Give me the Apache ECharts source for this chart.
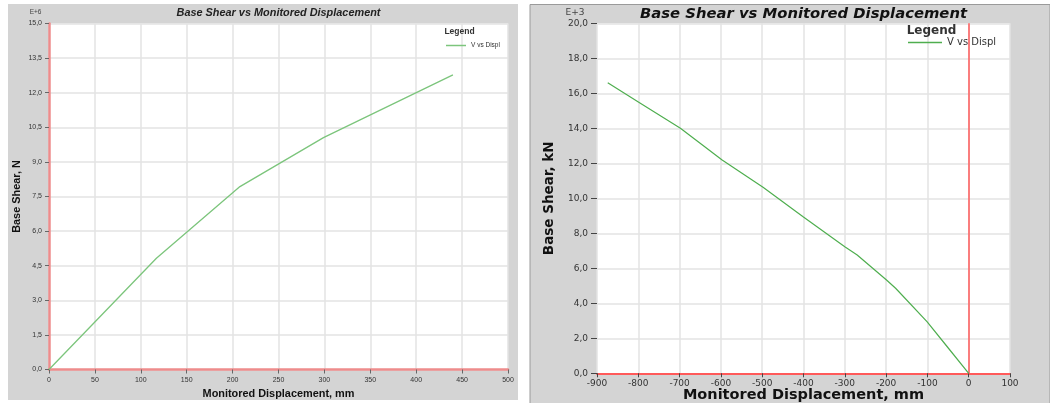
<!DOCTYPE html>
<html>
<head>
<meta charset="utf-8">
<script src="https://cdn.jsdelivr.net/npm/echarts@6/dist/echarts.min.js"></script>
<style>
  html, body { margin: 0; padding: 0; background: #ffffff; }
  #chart { width: 1050px; height: 403px; }
</style>
</head>
<body>
<div id="chart"></div>
<script>
// Pushover curve, positive push: displacement (mm) and base shear (x10^6 N)
const dispPos  = [0, 117, 208, 299, 440];
const shearPos = [0, 4.82, 7.93, 10.05, 12.77];

// Pushover curve, negative push: displacement (mm) and base shear (x10^3 kN)
const dispNeg  = [-874, -797, -698, -597, -498, -401, -300, -270, -199, -177, -101, -50, 0];
const shearNeg = [16.6, 15.46, 14.0, 12.19, 10.63, 8.95, 7.23, 6.76, 5.33, 4.86, 2.95, 1.46, 0];

// Axis ranges and tick steps
const axisPosX = { min: 0, max: 500, interval: 50 };
const axisPosY = { min: 0, max: 15, interval: 1.5 };
const axisNegX = { min: -900, max: 100, interval: 100 };
const axisNegY = { min: 0, max: 20, interval: 2 };

const titleText = 'Base Shear vs Monitored Displacement';
const xName = 'Monitored Displacement, mm';
const seriesName = 'V vs Displ';

const toPairs = (xs, ys) => xs.map((x, i) => [x, ys[i]]);
const commaDec = v => v.toFixed(1).replace('.', ',');

const FONT_L = 'Liberation Sans, Arial, sans-serif';
const FONT_R = 'DejaVu Sans, Verdana, sans-serif';
const GRID_COLOR = '#e3e3e3';
const PANEL = '#d4d4d4';

const chart = echarts.init(document.getElementById('chart'), null, { renderer: 'canvas' });

chart.setOption({
  animation: false,
  backgroundColor: '#ffffff',
  graphic: [
    // panel backgrounds
    { type: 'rect', z: -10, shape: { x: 8, y: 4, width: 510, height: 396 }, style: { fill: PANEL } },
    { type: 'rect', z: -10, shape: { x: 530, y: 4.5, width: 520, height: 399 },
      style: { fill: PANEL, stroke: '#9a9a9a', lineWidth: 1 } },
    // titles
    { type: 'text', x: 278.5, y: 12.5, style: { text: titleText, font: 'italic bold 10.9px ' + FONT_L,
      fill: '#222', align: 'center', verticalAlign: 'middle' } },
    { type: 'text', x: 803.5, y: 14, style: { text: titleText, font: 'italic bold 14.8px ' + FONT_R,
      fill: '#111', align: 'center', verticalAlign: 'middle' } },
    // exponent markers
    { type: 'text', x: 35.5, y: 12, style: { text: 'E+6', font: '6.5px ' + FONT_L,
      fill: '#444', align: 'center', verticalAlign: 'middle' } },
    { type: 'text', x: 575, y: 13, style: { text: 'E+3', font: '9px ' + FONT_R,
      fill: '#444', align: 'center', verticalAlign: 'middle' } },
    // legend headings
    { type: 'text', x: 459.5, y: 32, z: 10, style: { text: 'Legend', font: 'bold 8.5px ' + FONT_L,
      fill: '#333', align: 'center', verticalAlign: 'middle' } },
    { type: 'text', x: 931.5, y: 31, z: 10, style: { text: 'Legend', font: 'bold 12px ' + FONT_R,
      fill: '#333', align: 'center', verticalAlign: 'middle' } }
  ],
  legend: [
    {
      left: 446, top: 42, padding: 0, icon: 'rect', itemWidth: 20, itemHeight: 1.5,
      data: [{ name: seriesName + ' ', itemStyle: { color: '#7cc57c' } }],
      textStyle: { fontFamily: FONT_L, fontSize: 6.5, color: '#333' },
      selectedMode: false
    },
    {
      left: 908, top: 37.5, padding: 0, icon: 'rect', itemWidth: 34, itemHeight: 1.5,
      data: [{ name: seriesName, itemStyle: { color: '#4fae4f' } }],
      textStyle: { fontFamily: FONT_R, fontSize: 10, color: '#333' },
      selectedMode: false
    }
  ],
  grid: [
    { left: 49, top: 23.5, width: 459, height: 346, outerBoundsMode: 'none',
      backgroundColor: '#ffffff', show: true, borderWidth: 0 },
    { left: 597, top: 23.3, width: 413, height: 350, outerBoundsMode: 'none',
      backgroundColor: '#ffffff', show: true, borderWidth: 0 }
  ],
  xAxis: [
    {
      gridIndex: 0, type: 'value', min: axisPosX.min, max: axisPosX.max, interval: axisPosX.interval,
      name: xName, nameLocation: 'middle', nameGap: 19, nameMoveOverlap: false,
      nameTextStyle: { fontFamily: FONT_L, fontSize: 10.9, fontWeight: 'bold', color: '#111' },
      axisLine: { show: true, onZero: false, lineStyle: { color: '#ee8c8c', width: 2.5 } },
      axisTick: { show: true, length: 4, lineStyle: { color: '#666' } },
      axisLabel: { fontFamily: FONT_L, fontSize: 7, color: '#333', margin: 7 },
      splitLine: { show: true, lineStyle: { color: GRID_COLOR, width: 1.5 } }
    },
    {
      gridIndex: 1, type: 'value', min: axisNegX.min, max: axisNegX.max, interval: axisNegX.interval,
      name: xName, nameLocation: 'middle', nameGap: 14, nameMoveOverlap: false,
      nameTextStyle: { fontFamily: FONT_R, fontSize: 14.5, fontWeight: 'bold', color: '#111' },
      axisLine: { show: true, onZero: false, lineStyle: { color: '#ff5a5a', width: 2 } },
      axisTick: { show: true, length: 4, lineStyle: { color: '#444' } },
      axisLabel: { fontFamily: FONT_R, fontSize: 9, color: '#333', margin: 5.5 },
      splitLine: { show: true, lineStyle: { color: GRID_COLOR, width: 1.5 } }
    }
  ],
  yAxis: [
    {
      gridIndex: 0, type: 'value', min: axisPosY.min, max: axisPosY.max, interval: axisPosY.interval,
      name: 'Base Shear, N', nameLocation: 'middle', nameGap: 27, nameMoveOverlap: false,
      nameTextStyle: { fontFamily: FONT_L, fontSize: 10.9, fontWeight: 'bold', color: '#111' },
      axisLine: { show: true, onZero: false, lineStyle: { color: '#ee8c8c', width: 2.5 } },
      axisTick: { show: true, length: 4, lineStyle: { color: '#666' } },
      axisLabel: { fontFamily: FONT_L, fontSize: 7, color: '#333', margin: 7, formatter: commaDec },
      splitLine: { show: true, lineStyle: { color: GRID_COLOR, width: 1.5 } }
    },
    {
      gridIndex: 1, type: 'value', min: axisNegY.min, max: axisNegY.max, interval: axisNegY.interval,
      name: 'Base Shear, kN', nameLocation: 'middle', nameGap: 41, nameMoveOverlap: false,
      nameTextStyle: { fontFamily: FONT_R, fontSize: 13.5, fontWeight: 'bold', color: '#111' },
      axisLine: { show: false, onZero: false },
      axisTick: { show: true, length: 6, lineStyle: { color: '#444' } },
      axisLabel: { fontFamily: FONT_R, fontSize: 9, color: '#333', margin: 9, formatter: commaDec },
      splitLine: { show: true, lineStyle: { color: GRID_COLOR, width: 1.5 } }
    }
  ],
  series: [
    {
      name: seriesName + ' ', type: 'line', xAxisIndex: 0, yAxisIndex: 0,
      data: toPairs(dispPos, shearPos),
      showSymbol: false, symbol: 'none', silent: true,
      lineStyle: { color: '#7cc57c', width: 1.3 }, itemStyle: { color: '#7cc57c' }, z: 5
    },
    {
      name: seriesName, type: 'line', xAxisIndex: 1, yAxisIndex: 1,
      data: toPairs(dispNeg, shearNeg),
      showSymbol: false, symbol: 'none', silent: true,
      lineStyle: { color: '#4fae4f', width: 1.2 }, itemStyle: { color: '#4fae4f' }, z: 5,
      markLine: {
        silent: true, symbol: 'none', label: { show: false },
        lineStyle: { color: '#ff5a5a', width: 1.5, type: 'solid' },
        data: [{ xAxis: 0 }]
      }
    }
  ]
});
</script>
</body>
</html>
